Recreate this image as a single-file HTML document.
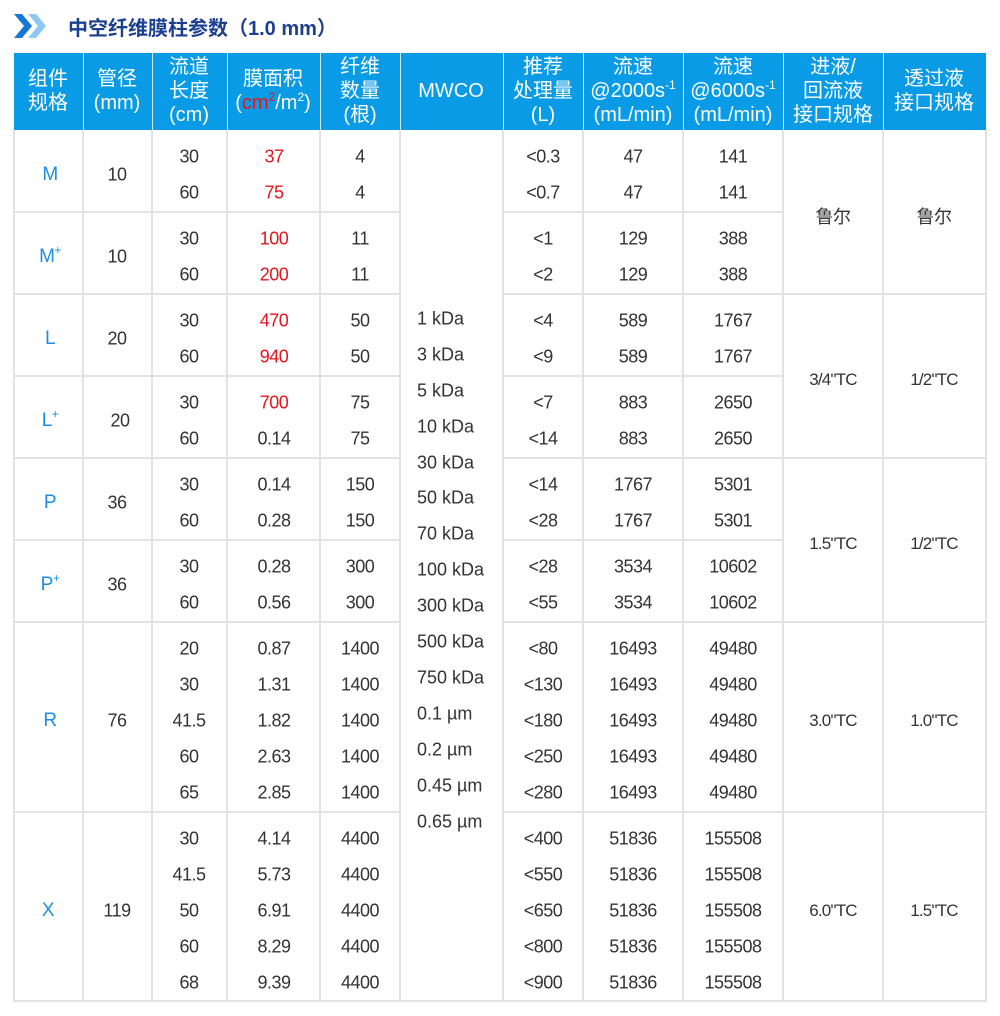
<!DOCTYPE html>
<html><head><meta charset="utf-8">
<style>
body{margin:0;background:#fff;width:1000px;height:1016px;position:relative;overflow:hidden;font-family:"Liberation Sans","Noto Sans CJK SC",sans-serif;}
.t{position:absolute;transform:translate(-50%,-50%);white-space:nowrap;font-size:18px;color:#333;letter-spacing:-0.5px}
.l{position:absolute;white-space:nowrap;font-size:18px;color:#333;transform:translateY(-50%)}
.h{position:absolute;transform:translate(-50%,-50%);white-space:nowrap;font-size:20px;color:#fff;text-align:center;line-height:24px}
.b{color:#1a8fe0;font-size:19px}
.r{color:#e8141c}
.s{font-size:17px;letter-spacing:-0.8px}
.v{position:absolute;width:2px;background:#e3e3e3}
.hl{position:absolute;height:2px;background:#e3e3e3}
.hv{position:absolute;width:1px;background:#cfe9f8;top:53px;height:77px}
sup{font-size:12px;line-height:0;vertical-align:0;position:relative;top:-8px}
</style></head><body>
<svg style="position:absolute;left:14px;top:14px" width="34" height="24">
<polygon points="0,0 8,0 18,12 8,24 0,24 10,12" fill="#1478d4"/>
<polygon points="14,0 22,0 32,12 22,24 14,24 24,12" fill="#8cc8f0"/>
</svg>
<div style="position:absolute;left:68px;top:12px;font-size:20px;color:#1d3f8f;font-weight:bold">中空纤维膜柱参数（1.0 mm）</div>

<div style="position:absolute;left:14px;top:53px;width:972px;height:77px;background:#0a9be6"></div>
<div class="hv" style="left:83px"></div><div class="hv" style="left:152px"></div><div class="hv" style="left:227px"></div><div class="hv" style="left:320px"></div><div class="hv" style="left:400px"></div><div class="hv" style="left:503px"></div><div class="hv" style="left:583px"></div><div class="hv" style="left:683px"></div><div class="hv" style="left:783px"></div><div class="hv" style="left:883px"></div>
<div class="h" style="left:48px;top:91px">组件<br>规格</div>
<div class="h" style="left:117px;top:91px">管径<br>(mm)</div>
<div class="h" style="left:189px;top:91px">流道<br>长度<br>(cm)</div>
<div class="h" style="left:273px;top:91px">膜面积<br>(<span class="r">cm<sup>2</sup></span>/m<sup>2</sup>)</div>
<div class="h" style="left:360px;top:91px">纤维<br>数量<br>(根)</div>
<div class="h" style="left:451px;top:91px">MWCO</div>
<div class="h" style="left:543px;top:91px">推荐<br>处理量<br>(L)</div>
<div class="h" style="left:633px;top:91px">流速<br>@2000s<sup>-1</sup><br>(mL/min)</div>
<div class="h" style="left:733px;top:91px">流速<br>@6000s<sup>-1</sup><br>(mL/min)</div>
<div class="h" style="left:833px;top:91px">进液/<br>回流液<br>接口规格</div>
<div class="h" style="left:934px;top:91px">透过液<br>接口规格</div>

<div class="v" style="left:13px;top:130px;height:872px"></div>
<div class="v" style="left:82px;top:130px;height:872px"></div>
<div class="v" style="left:151px;top:130px;height:872px"></div>
<div class="v" style="left:226px;top:130px;height:872px"></div>
<div class="v" style="left:319px;top:130px;height:872px"></div>
<div class="v" style="left:399px;top:130px;height:872px"></div>
<div class="v" style="left:502px;top:130px;height:872px"></div>
<div class="v" style="left:582px;top:130px;height:872px"></div>
<div class="v" style="left:682px;top:130px;height:872px"></div>
<div class="v" style="left:782px;top:130px;height:872px"></div>
<div class="v" style="left:882px;top:130px;height:872px"></div>
<div class="v" style="left:985px;top:130px;height:872px"></div>
<div class="hl" style="left:13px;top:1000px;width:974px"></div>
<div class="hl" style="left:13px;top:211px;width:387px"></div><div class="hl" style="left:502px;top:211px;width:281px"></div>
<div class="hl" style="left:13px;top:293px;width:387px"></div><div class="hl" style="left:502px;top:293px;width:485px"></div>
<div class="hl" style="left:13px;top:375px;width:387px"></div><div class="hl" style="left:502px;top:375px;width:281px"></div>
<div class="hl" style="left:13px;top:457px;width:387px"></div><div class="hl" style="left:502px;top:457px;width:485px"></div>
<div class="hl" style="left:13px;top:539px;width:387px"></div><div class="hl" style="left:502px;top:539px;width:281px"></div>
<div class="hl" style="left:13px;top:621px;width:387px"></div><div class="hl" style="left:502px;top:621px;width:485px"></div>
<div class="hl" style="left:13px;top:811px;width:387px"></div><div class="hl" style="left:502px;top:811px;width:485px"></div>

<div class="t b" style="left:50px;top:175px">M</div>
<div class="t b" style="left:50px;top:257px">M<sup>+</sup></div>
<div class="t b" style="left:50px;top:339px">L</div>
<div class="t b" style="left:50px;top:421px">L<sup>+</sup></div>
<div class="t b" style="left:50px;top:503px">P</div>
<div class="t b" style="left:50px;top:585px">P<sup>+</sup></div>
<div class="t b" style="left:50px;top:721px">R</div>
<div class="t b" style="left:48px;top:911px">X</div>
<div class="t" style="left:117px;top:175px">10</div>
<div class="t" style="left:117px;top:257px">10</div>
<div class="t" style="left:117px;top:339px">20</div>
<div class="t" style="left:120px;top:421px">20</div>
<div class="t" style="left:117px;top:503px">36</div>
<div class="t" style="left:117px;top:585px">36</div>
<div class="t" style="left:117px;top:721px">76</div>
<div class="t" style="left:117px;top:911px">119</div>

<div class="t" style="left:189px;top:157px">30</div><div class="t r" style="left:274px;top:157px">37</div><div class="t" style="left:360px;top:157px">4</div><div class="t" style="left:543px;top:157px">&lt;0.3</div><div class="t" style="left:633px;top:157px">47</div><div class="t" style="left:733px;top:157px">141</div>
<div class="t" style="left:189px;top:193px">60</div><div class="t r" style="left:274px;top:193px">75</div><div class="t" style="left:360px;top:193px">4</div><div class="t" style="left:543px;top:193px">&lt;0.7</div><div class="t" style="left:633px;top:193px">47</div><div class="t" style="left:733px;top:193px">141</div>
<div class="t" style="left:189px;top:239px">30</div><div class="t r" style="left:274px;top:239px">100</div><div class="t" style="left:360px;top:239px">11</div><div class="t" style="left:543px;top:239px">&lt;1</div><div class="t" style="left:633px;top:239px">129</div><div class="t" style="left:733px;top:239px">388</div>
<div class="t" style="left:189px;top:275px">60</div><div class="t r" style="left:274px;top:275px">200</div><div class="t" style="left:360px;top:275px">11</div><div class="t" style="left:543px;top:275px">&lt;2</div><div class="t" style="left:633px;top:275px">129</div><div class="t" style="left:733px;top:275px">388</div>
<div class="t" style="left:189px;top:321px">30</div><div class="t r" style="left:274px;top:321px">470</div><div class="t" style="left:360px;top:321px">50</div><div class="t" style="left:543px;top:321px">&lt;4</div><div class="t" style="left:633px;top:321px">589</div><div class="t" style="left:733px;top:321px">1767</div>
<div class="t" style="left:189px;top:357px">60</div><div class="t r" style="left:274px;top:357px">940</div><div class="t" style="left:360px;top:357px">50</div><div class="t" style="left:543px;top:357px">&lt;9</div><div class="t" style="left:633px;top:357px">589</div><div class="t" style="left:733px;top:357px">1767</div>
<div class="t" style="left:189px;top:403px">30</div><div class="t r" style="left:274px;top:403px">700</div><div class="t" style="left:360px;top:403px">75</div><div class="t" style="left:543px;top:403px">&lt;7</div><div class="t" style="left:633px;top:403px">883</div><div class="t" style="left:733px;top:403px">2650</div>
<div class="t" style="left:189px;top:439px">60</div><div class="t" style="left:274px;top:439px">0.14</div><div class="t" style="left:360px;top:439px">75</div><div class="t" style="left:543px;top:439px">&lt;14</div><div class="t" style="left:633px;top:439px">883</div><div class="t" style="left:733px;top:439px">2650</div>
<div class="t" style="left:189px;top:485px">30</div><div class="t" style="left:274px;top:485px">0.14</div><div class="t" style="left:360px;top:485px">150</div><div class="t" style="left:543px;top:485px">&lt;14</div><div class="t" style="left:633px;top:485px">1767</div><div class="t" style="left:733px;top:485px">5301</div>
<div class="t" style="left:189px;top:521px">60</div><div class="t" style="left:274px;top:521px">0.28</div><div class="t" style="left:360px;top:521px">150</div><div class="t" style="left:543px;top:521px">&lt;28</div><div class="t" style="left:633px;top:521px">1767</div><div class="t" style="left:733px;top:521px">5301</div>
<div class="t" style="left:189px;top:567px">30</div><div class="t" style="left:274px;top:567px">0.28</div><div class="t" style="left:360px;top:567px">300</div><div class="t" style="left:543px;top:567px">&lt;28</div><div class="t" style="left:633px;top:567px">3534</div><div class="t" style="left:733px;top:567px">10602</div>
<div class="t" style="left:189px;top:603px">60</div><div class="t" style="left:274px;top:603px">0.56</div><div class="t" style="left:360px;top:603px">300</div><div class="t" style="left:543px;top:603px">&lt;55</div><div class="t" style="left:633px;top:603px">3534</div><div class="t" style="left:733px;top:603px">10602</div>
<div class="t" style="left:189px;top:649px">20</div><div class="t" style="left:274px;top:649px">0.87</div><div class="t" style="left:360px;top:649px">1400</div><div class="t" style="left:543px;top:649px">&lt;80</div><div class="t" style="left:633px;top:649px">16493</div><div class="t" style="left:733px;top:649px">49480</div>
<div class="t" style="left:189px;top:685px">30</div><div class="t" style="left:274px;top:685px">1.31</div><div class="t" style="left:360px;top:685px">1400</div><div class="t" style="left:543px;top:685px">&lt;130</div><div class="t" style="left:633px;top:685px">16493</div><div class="t" style="left:733px;top:685px">49480</div>
<div class="t" style="left:189px;top:721px">41.5</div><div class="t" style="left:274px;top:721px">1.82</div><div class="t" style="left:360px;top:721px">1400</div><div class="t" style="left:543px;top:721px">&lt;180</div><div class="t" style="left:633px;top:721px">16493</div><div class="t" style="left:733px;top:721px">49480</div>
<div class="t" style="left:189px;top:757px">60</div><div class="t" style="left:274px;top:757px">2.63</div><div class="t" style="left:360px;top:757px">1400</div><div class="t" style="left:543px;top:757px">&lt;250</div><div class="t" style="left:633px;top:757px">16493</div><div class="t" style="left:733px;top:757px">49480</div>
<div class="t" style="left:189px;top:793px">65</div><div class="t" style="left:274px;top:793px">2.85</div><div class="t" style="left:360px;top:793px">1400</div><div class="t" style="left:543px;top:793px">&lt;280</div><div class="t" style="left:633px;top:793px">16493</div><div class="t" style="left:733px;top:793px">49480</div>
<div class="t" style="left:189px;top:839px">30</div><div class="t" style="left:274px;top:839px">4.14</div><div class="t" style="left:360px;top:839px">4400</div><div class="t" style="left:543px;top:839px">&lt;400</div><div class="t" style="left:633px;top:839px">51836</div><div class="t" style="left:733px;top:839px">155508</div>
<div class="t" style="left:189px;top:875px">41.5</div><div class="t" style="left:274px;top:875px">5.73</div><div class="t" style="left:360px;top:875px">4400</div><div class="t" style="left:543px;top:875px">&lt;550</div><div class="t" style="left:633px;top:875px">51836</div><div class="t" style="left:733px;top:875px">155508</div>
<div class="t" style="left:189px;top:911px">50</div><div class="t" style="left:274px;top:911px">6.91</div><div class="t" style="left:360px;top:911px">4400</div><div class="t" style="left:543px;top:911px">&lt;650</div><div class="t" style="left:633px;top:911px">51836</div><div class="t" style="left:733px;top:911px">155508</div>
<div class="t" style="left:189px;top:947px">60</div><div class="t" style="left:274px;top:947px">8.29</div><div class="t" style="left:360px;top:947px">4400</div><div class="t" style="left:543px;top:947px">&lt;800</div><div class="t" style="left:633px;top:947px">51836</div><div class="t" style="left:733px;top:947px">155508</div>
<div class="t" style="left:189px;top:983px">68</div><div class="t" style="left:274px;top:983px">9.39</div><div class="t" style="left:360px;top:983px">4400</div><div class="t" style="left:543px;top:983px">&lt;900</div><div class="t" style="left:633px;top:983px">51836</div><div class="t" style="left:733px;top:983px">155508</div>

<div class="l" style="left:417px;top:319px">1 kDa</div>
<div class="l" style="left:417px;top:355px">3 kDa</div>
<div class="l" style="left:417px;top:391px">5 kDa</div>
<div class="l" style="left:417px;top:427px">10 kDa</div>
<div class="l" style="left:417px;top:463px">30 kDa</div>
<div class="l" style="left:417px;top:498px">50 kDa</div>
<div class="l" style="left:417px;top:534px">70 kDa</div>
<div class="l" style="left:417px;top:570px">100 kDa</div>
<div class="l" style="left:417px;top:606px">300 kDa</div>
<div class="l" style="left:417px;top:642px">500 kDa</div>
<div class="l" style="left:417px;top:678px">750 kDa</div>
<div class="l" style="left:417px;top:714px">0.1 µm</div>
<div class="l" style="left:417px;top:750px">0.2 µm</div>
<div class="l" style="left:417px;top:786px">0.45 µm</div>
<div class="l" style="left:417px;top:822px">0.65 µm</div>

<div class="t" style="left:833px;top:216px">鲁尔</div><div class="t" style="left:934px;top:216px">鲁尔</div>
<div class="t s" style="left:833px;top:380px">3/4"TC</div><div class="t s" style="left:934px;top:380px">1/2"TC</div>
<div class="t s" style="left:833px;top:544px">1.5"TC</div><div class="t s" style="left:934px;top:544px">1/2"TC</div>
<div class="t s" style="left:833px;top:721px">3.0"TC</div><div class="t s" style="left:934px;top:721px">1.0"TC</div>
<div class="t s" style="left:833px;top:911px">6.0"TC</div><div class="t s" style="left:934px;top:911px">1.5"TC</div>
</body></html>
